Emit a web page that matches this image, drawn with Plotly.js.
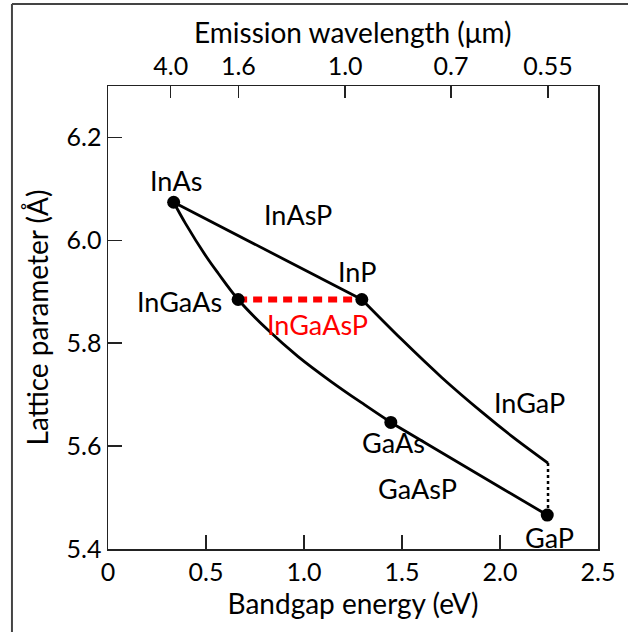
<!DOCTYPE html>
<html>
<head>
<meta charset="utf-8">
<script src="https://cdn.plot.ly/plotly-3.0.1.min.js"></script>
<style>html,body{margin:0;padding:0;background:#fff;}#chart{width:628px;height:632px;}</style>
</head>
<body>
<div id="chart"></div>
<script>
// Binary / key compounds (bandgap energy eV, lattice parameter Å)
const compounds = ['InAs', 'InP', 'InGaAs', 'GaAs', 'GaP'];
const compoundEnergy = [0.335, 1.295, 0.664, 1.443, 2.241];
const compoundLattice = [6.074, 5.885, 5.885, 5.646, 5.466];

// InAs - InP line (InAsP)
const inAsPEnergy = [0.335, 1.295];
const inAsPLattice = [6.074, 5.885];

// InAs - InGaAs - GaAs curve
const inGaAsEnergy = [0.335, 0.395, 0.502, 0.562, 0.664, 0.815, 0.970, 1.140, 1.310, 1.443];
const inGaAsLattice = [6.074, 6.033, 5.968, 5.936, 5.885, 5.826, 5.774, 5.725, 5.680, 5.646];

// GaAs - GaP line (GaAsP)
const gaAsPEnergy = [1.443, 2.241];
const gaAsPLattice = [5.646, 5.466];

// InP - InGaP curve
const inGaPEnergy = [1.295, 1.499, 1.704, 1.908, 2.061, 2.245];
const inGaPLattice = [5.885, 5.807, 5.733, 5.666, 5.619, 5.567];

// dotted drop to GaP
const dropEnergy = [2.245, 2.245];
const dropLattice = [5.567, 5.466];

// InGaAsP lattice-matched line
const inGaAsPEnergy = [0.664, 1.295];
const inGaAsPLattice = [5.885, 5.885];

// Annotations
const labelText = ['InAs', 'InAsP', 'InP', 'InGaAs', 'InGaAsP', 'InGaP', 'GaAs', 'GaAsP', 'GaP'];
const labelX = [0.345, 0.968, 1.269, 0.367, 1.071, 2.153, 1.455, 1.581, 2.255];
const labelY = [6.117, 6.051, 5.939, 5.882, 5.837, 5.684, 5.608, 5.517, 5.423];
const labelColor = ['black', 'black', 'black', 'black', 'red', 'black', 'black', 'black', 'black'];

// Axes ticks
const xTicks = [0, 0.5, 1.0, 1.5, 2.0, 2.5];
const xTickText = ['0', '0.5', '1.0', '1.5', '2.0', '2.5'];
const yTicks = [5.4, 5.6, 5.8, 6.0, 6.2];
const yTickText = ['5.4', '5.6', '5.8', '6.0', '6.2'];
const wlTickPos = [0.32, 0.665, 1.21, 1.75, 2.245];
const wlTickText = ['4.0', '1.6', '1.0', '0.7', '0.55'];

const FONT = 'Lato, "Open Sans", sans-serif';
const lineStyle = {color: 'black', width: 2.8};

const traces = [
  {x: inAsPEnergy, y: inAsPLattice, mode: 'lines', line: lineStyle, hoverinfo: 'skip'},
  {x: inGaAsEnergy, y: inGaAsLattice, mode: 'lines', line: Object.assign({shape: 'spline', smoothing: 1}, lineStyle), hoverinfo: 'skip'},
  {x: gaAsPEnergy, y: gaAsPLattice, mode: 'lines', line: lineStyle, hoverinfo: 'skip'},
  {x: inGaPEnergy, y: inGaPLattice, mode: 'lines', line: Object.assign({shape: 'spline', smoothing: 1}, lineStyle), hoverinfo: 'skip'},
  {x: dropEnergy, y: dropLattice, mode: 'lines', line: {color: 'black', width: 2.5, dash: 'dot'}, hoverinfo: 'skip'},
  {x: inGaAsPEnergy, y: inGaAsPLattice, mode: 'lines', line: {color: 'red', width: 6, dash: '9px,6px'}, hoverinfo: 'skip'},
  {x: compoundEnergy, y: compoundLattice, text: compounds, mode: 'markers', marker: {color: 'black', size: 13}},
  {x: [wlTickPos[0]], y: [5.4], xaxis: 'x2', mode: 'markers', marker: {opacity: 0}, hoverinfo: 'skip'}
];

const annotations = labelText.map((t, i) => ({
  x: labelX[i], y: labelY[i], text: t, showarrow: false,
  font: {family: FONT, size: 27, color: labelColor[i]},
  xanchor: 'center', yanchor: 'middle'
}));
annotations.push({
  xref: 'paper', yref: 'paper', x: 0.5, y: 1.1166, text: 'Emission wavelength (μm)',
  showarrow: false, xanchor: 'center', yanchor: 'middle',
  font: {family: FONT, size: 28, color: 'black'}
});

const axisCommon = {
  showgrid: false, zeroline: false, showline: true, linecolor: '#222', linewidth: 1.5,
  ticks: 'inside', ticklen: 14, tickwidth: 1.5, tickcolor: '#222',
  tickfont: {family: FONT, size: 25, color: 'black'}
};

const layout = {
  width: 628, height: 632,
  margin: {l: 108, r: 30, t: 86, b: 83},
  paper_bgcolor: 'white', plot_bgcolor: 'white',
  showlegend: false,
  font: {family: FONT, color: 'black'},
  xaxis: Object.assign({}, axisCommon, {
    range: [0, 2.5], tickvals: xTicks, ticktext: xTickText, mirror: true,
    title: {text: 'Bandgap energy (eV)', font: {family: FONT, size: 28, color: 'black'}, standoff: 10}
  }),
  xaxis2: Object.assign({}, axisCommon, {
    range: [0, 2.5], overlaying: 'x', side: 'top', anchor: 'y',
    tickvals: wlTickPos, ticktext: wlTickText, ticklen: 12
  }),
  yaxis: Object.assign({}, axisCommon, {
    range: [5.4, 6.3], tickvals: yTicks, ticktext: yTickText, mirror: true,
    title: {text: 'Lattice parameter (Å)', font: {family: FONT, size: 28, color: 'black'}, standoff: 10}
  }),
  annotations: annotations,
  shapes: [
    {type: 'line', xref: 'paper', yref: 'paper', x0: -0.196, x1: -0.196, y0: -0.25, y1: 1.177, line: {color: '#444', width: 2}},
    {type: 'line', xref: 'paper', yref: 'paper', x0: -0.196, x1: 1.2, y0: 1.177, y1: 1.177, line: {color: '#444', width: 2}}
  ]
};

Plotly.newPlot('chart', traces, layout, {staticPlot: true, displayModeBar: false});
</script>
</body>
</html>
